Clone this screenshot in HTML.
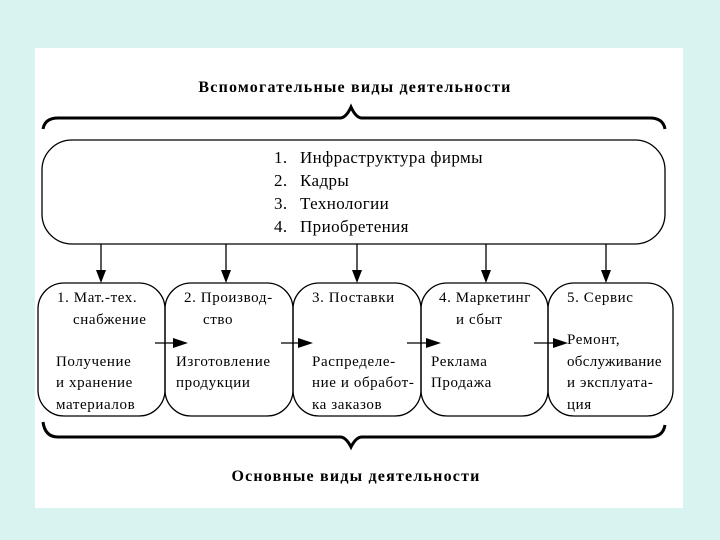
<!DOCTYPE html>
<html><head><meta charset="utf-8"><style>
html,body{margin:0;padding:0;background:#d9f3f0;}
svg{display:block;}
text{font-family:"Liberation Serif",serif;fill:#000;}
</style></head><body>
<svg width="720" height="540" viewBox="0 0 720 540" xmlns="http://www.w3.org/2000/svg">
<rect x="0" y="0" width="720" height="540" fill="#d9f3f0"/>
<rect x="35" y="48" width="648" height="460" fill="#ffffff"/>
<text x="355" y="92" font-size="16" font-weight="bold" text-anchor="middle" letter-spacing="1.2">Вспомогательные виды деятельности</text>
<path d="M43,129 Q45,118 58,118 L340,118 Q346,118 351,107 Q356,118 362,118 L650,118 Q663,118 665,129" fill="none" stroke="#000" stroke-width="3"/>
<rect x="42" y="140" width="623" height="104" rx="30" ry="30" fill="none" stroke="#000" stroke-width="1.3"/>
<g font-size="17" letter-spacing="0.4">
<text x="274" y="163">1.</text><text x="300" y="163">Инфраструктура фирмы</text>
<text x="274" y="186">2.</text><text x="300" y="186">Кадры</text>
<text x="274" y="209">3.</text><text x="300" y="209">Технологии</text>
<text x="274" y="232">4.</text><text x="300" y="232">Приобретения</text>
</g>
<g stroke="#000" stroke-width="1.3">
<line x1="101" y1="244" x2="101" y2="272"/><line x1="226" y1="244" x2="226" y2="272"/>
<line x1="357" y1="244" x2="357" y2="272"/><line x1="486" y1="244" x2="486" y2="272"/>
<line x1="606" y1="244" x2="606" y2="272"/>
<line x1="155" y1="343" x2="175" y2="343"/><line x1="281" y1="343" x2="300" y2="343"/>
<line x1="407" y1="343" x2="428" y2="343"/><line x1="534" y1="343" x2="555" y2="343"/>
</g>
<g fill="#000">
<path d="M96,270 L106,270 L101,283Z"/><path d="M221,270 L231,270 L226,283Z"/>
<path d="M352,270 L362,270 L357,283Z"/><path d="M481,270 L491,270 L486,283Z"/>
<path d="M601,270 L611,270 L606,283Z"/>
<path d="M173,338 L188,343 L173,348Z"/><path d="M298,338 L313,343 L298,348Z"/>
<path d="M426,338 L441,343 L426,348Z"/><path d="M553,338 L568,343 L553,348Z"/>
</g>
<g fill="none" stroke="#000" stroke-width="1.3">
<rect x="38" y="283" width="127" height="133" rx="26" ry="26"/>
<rect x="165" y="283" width="128" height="133" rx="26" ry="26"/>
<rect x="293" y="283" width="128" height="133" rx="26" ry="26"/>
<rect x="421" y="283" width="127" height="133" rx="26" ry="26"/>
<rect x="548" y="283" width="125" height="133" rx="26" ry="26"/>
</g>
<g font-size="15" letter-spacing="0.6">
<text x="57" y="302">1. Мат.-тех.</text><text x="73" y="324">снабжение</text>
<text x="56" y="366">Получение</text><text x="56" y="387">и хранение</text><text x="56" y="409">материалов</text>
<text x="184" y="302">2. Производ-</text><text x="203" y="324">ство</text>
<text x="176" y="366">Изготовление</text><text x="176" y="387">продукции</text>
<text x="312" y="302">3. Поставки</text>
<text x="312" y="366">Распределе-</text><text x="312" y="387">ние и обработ-</text><text x="312" y="409">ка заказов</text>
<text x="439" y="302">4. Маркетинг</text><text x="456" y="324">и сбыт</text>
<text x="431" y="366">Реклама</text><text x="431" y="387">Продажа</text>
<text x="567" y="302">5. Сервис</text>
<text x="567" y="344">Ремонт,</text><text x="567" y="366" letter-spacing="0.3">обслуживание</text><text x="567" y="387">и эксплуата-</text><text x="567" y="409">ция</text>
</g>
<path d="M43,422 Q45,437 58,437 L340,437 Q346,437 351,447 Q356,437 362,437 L650,437 Q663,437 665,425" fill="none" stroke="#000" stroke-width="3"/>
<text x="356" y="481" font-size="16" font-weight="bold" text-anchor="middle" letter-spacing="1.2">Основные виды деятельности</text>
</svg>
</body></html>
